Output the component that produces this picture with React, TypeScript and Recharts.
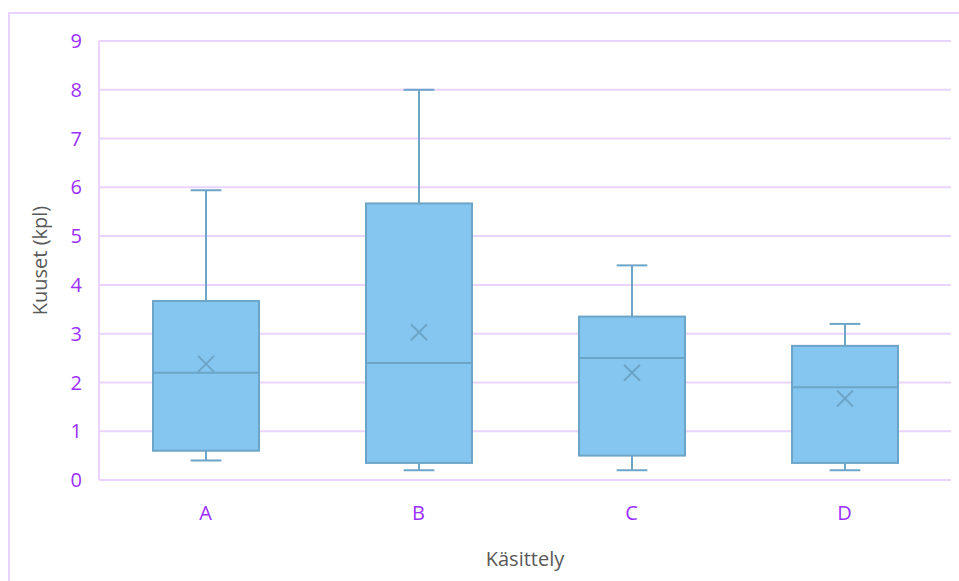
import { ComposedChart, Bar, XAxis, YAxis, CartesianGrid } from 'recharts'

const categories = ['A', 'B', 'C', 'D']
const minValues = [0.4, 0.2, 0.2, 0.2]
const q1Values = [0.6, 0.35, 0.5, 0.35]
const medianValues = [2.2, 2.4, 2.5, 1.9]
const q3Values = [3.67, 5.67, 3.35, 2.75]
const maxValues = [5.94, 8.0, 4.4, 3.2]
const meanValues = [2.38, 3.03, 2.2, 1.67]
const yTicks = [0, 1, 2, 3, 4, 5, 6, 7, 8, 9]

const data = categories.map((name, i) => ({
  name,
  range: [minValues[i], maxValues[i]],
  min: minValues[i],
  q1: q1Values[i],
  median: medianValues[i],
  q3: q3Values[i],
  max: maxValues[i],
  mean: meanValues[i],
}))

const FONT = '"Open Sans", "Noto Sans", sans-serif'
const GRID = '#ebd3ff'
const TICK = '#9b30ff'
const BOX_FILL = '#84C6EF'
const BOX_STROKE = '#6CA5C8'

// draws one box plot from the [min, max] range bar the library positions for us
const BoxShape = (props: any) => {
  const { x, y, width, height, payload } = props
  const top = Math.min(y, y + height)
  const h = Math.abs(height)
  const span = payload.max - payload.min
  const py = (v: number) => top + ((payload.max - v) / span) * h
  const cx = x + width / 2
  const cap = width * 0.145
  const m = 8
  const my = py(payload.mean)
  return (
    <g>
      <line x1={cx} x2={cx} y1={py(payload.max)} y2={py(payload.q3)} stroke={BOX_STROKE} strokeWidth={2} />
      <line x1={cx} x2={cx} y1={py(payload.q1)} y2={py(payload.min)} stroke={BOX_STROKE} strokeWidth={2} />
      <line x1={cx - cap} x2={cx + cap} y1={py(payload.max)} y2={py(payload.max)} stroke={BOX_STROKE} strokeWidth={2} />
      <line x1={cx - cap} x2={cx + cap} y1={py(payload.min)} y2={py(payload.min)} stroke={BOX_STROKE} strokeWidth={2} />
      <rect
        x={x}
        y={py(payload.q3)}
        width={width}
        height={py(payload.q1) - py(payload.q3)}
        fill={BOX_FILL}
        stroke={BOX_STROKE}
        strokeWidth={2}
      />
      <line x1={x} x2={x + width} y1={py(payload.median)} y2={py(payload.median)} stroke={BOX_STROKE} strokeWidth={2} />
      <line x1={cx - m} x2={cx + m} y1={my - m} y2={my + m} stroke={BOX_STROKE} strokeWidth={2} />
      <line x1={cx - m} x2={cx + m} y1={my + m} y2={my - m} stroke={BOX_STROKE} strokeWidth={2} />
    </g>
  )
}

export default function App() {
  return (
    <div style={{ position: 'fixed', left: 0, top: 0, width: 959, height: 581, overflow: 'hidden', background: '#fff' }}>
      <div
        style={{
          position: 'absolute',
          left: 8,
          top: 12,
          width: 1000,
          height: 1000,
          borderTop: `2px solid ${GRID}`,
          borderLeft: `2px solid ${GRID}`,
        }}
      />
      <div style={{ position: 'absolute', left: 0, top: 0 }}>
        <ComposedChart
          width={959}
          height={581}
          data={data}
          margin={{ top: 41, right: 8, bottom: 0, left: 0 }}
          barSize={106}
          style={{ fontFamily: FONT }}
        >
          <CartesianGrid vertical={false} stroke={GRID} strokeWidth={2} />
          <XAxis
            dataKey="name"
            height={101}
            axisLine={{ stroke: GRID, strokeWidth: 2 }}
            tickLine={false}
            tickSize={0}
            tickMargin={26}
            tick={{ fill: TICK, fontSize: 20, fontFamily: FONT }}
            label={{ value: 'Käsittely', position: 'insideBottom', offset: 15, fill: '#595959', fontSize: 20, fontFamily: FONT }}
          />
          <YAxis
            width={99}
            domain={[0, 9]}
            ticks={yTicks}
            interval={0}
            axisLine={{ stroke: GRID, strokeWidth: 2 }}
            tickLine={false}
            tickSize={0}
            tickMargin={17}
            tick={{ fill: TICK, fontSize: 20, fontFamily: FONT }}
            label={{ value: 'Kuuset (kpl)', angle: -90, position: 'center', dx: -10, fill: '#595959', fontSize: 20, fontFamily: FONT }}
          />
          <Bar dataKey="range" shape={BoxShape} isAnimationActive={false} />
        </ComposedChart>
      </div>
    </div>
  )
}
